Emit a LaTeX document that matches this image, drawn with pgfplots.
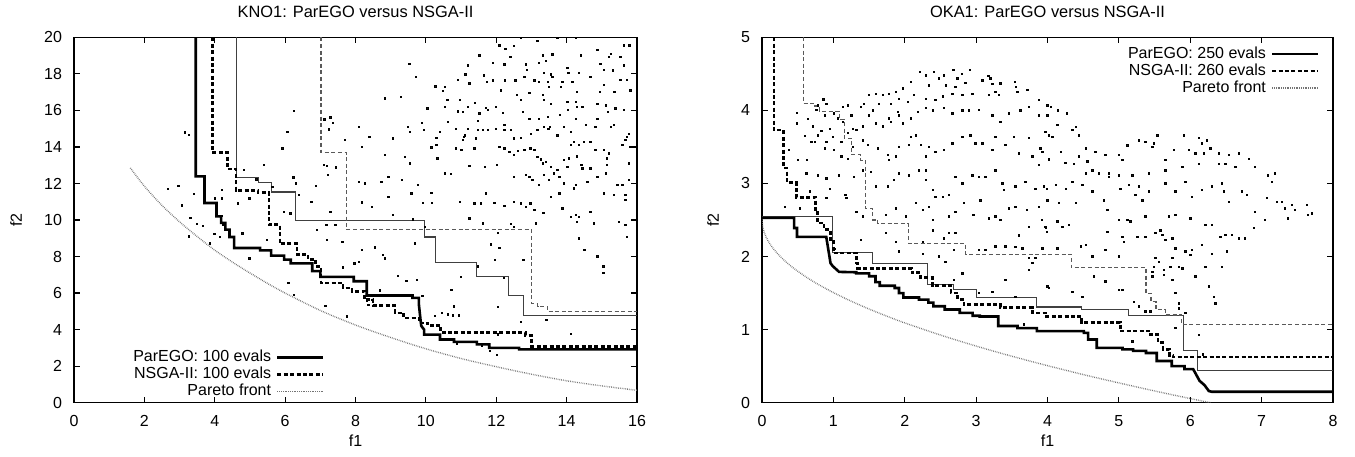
\documentclass[border=0pt]{standalone}
\usepackage{fontspec}
\setmainfont{Liberation Sans}
\usepackage{pgfplots}
\pgfplotsset{compat=1.18}
\definecolor{thinsolid}{gray}{0.25}
\definecolor{thindash}{gray}{0.35}
\definecolor{pfront}{gray}{0.45}
\pgfplotsset{
  gp/.style={
    scale only axis,
    height=182.7pt,
    axis line style={line width=0.75pt},
    tick style={black, line width=0.6pt},
    major tick length=3pt,
    tick align=inside,
    /pgf/number format/assume math mode=true,
    xticklabel style={yshift=-2.7pt},
    yticklabel style={xshift=-2.5pt},
    every axis title/.style={at={(axis description cs:0.5,1)}, anchor=center, yshift=12.65pt, font=\fontsize{8.2}{9.5}\selectfont},
    xlabel style={at={(axis description cs:0.5,0)}, anchor=center, yshift=-19pt},
    legend cell align=right,
    legend plot pos=right,
    legend image code/.code={\draw[##1] (0pt,0pt) -- (23pt,0pt);},
    legend style={draw=none, fill=none, inner sep=0pt, row sep=0pt,
      nodes={inner ysep=0.75pt, inner xsep=2.5pt, text height=5.6pt, text depth=1.4pt}},
  },
  pset/.style={only marks, mark=square*, mark size=0.34pt, mark options={draw=none, fill=black!90}, forget plot},
  thk/.style={black, line width=1.3pt},
  thkd/.style={black, line width=1.3pt, dash pattern=on 2pt off 1.2pt},
  thn/.style={thinsolid, line width=0.55pt, forget plot},
  thnd/.style={thindash, line width=0.55pt, dash pattern=on 2pt off 1.3pt, forget plot},
  pf/.style={pfront, line width=0.7pt, dash pattern=on 0.35pt off 0.55pt},
}
\begin{document}
\begin{tikzpicture}[font=\fontsize{8}{9.5}\selectfont]
\useasboundingbox (0,0) rectangle (677.5pt,228pt);
% ---------------- KNO1 ----------------
\begin{axis}[gp, at={(37pt,26.65pt)}, anchor=south west, width=281.5pt,
  xmin=0, xmax=16, ymin=0, ymax=20,
  xtick={0,2,...,16}, ytick={0,2,...,20},
  title={KNO1: ParEGO versus NSGA-II}, xlabel={f1}, ylabel={f2},
  ylabel style={at={([xshift=-29pt]axis description cs:0,0.5)}, anchor=center},
  legend style={at={(axis description cs:0.446,0.006)}, anchor=south east}]
\addplot[pset] coordinates {
(3.16,14.8)(3.26,14.66)(2.67,11.7)(2.97,11.88)(3.07,10.8)(3.41,11.42)(3.46,13.57)(3.31,10.1)(3.5,9.8)(3.26,9.11)
(10.73,6.19)(10.79,5.28)(11.0,6.89)(11.47,7.47)(11.97,7.83)(12.21,6.83)(12.77,7.83)(14.5,8.38)(14.87,8.01)(15.05,7.1)(15.05,7.47)
(10.45,4.92)(10.62,4.84)(10.77,4.78)(10.94,4.78)(12.04,5.25)(12.7,4.43)(13.43,4.54)(14.12,3.78)(12.04,3.74)(10.88,3.22)(11.82,2.84)(12.01,2.62)(11.6,3.1)
(6.25,15.97)(6.06,14.82)(5.92,13.91)(7.12,15.5)(7.29,15.61)(7.35,15.32)(7.24,14.95)(8.09,15.1)(8.39,14.55)(7.69,14.37)(8.18,14.0)
(7.1,13.0)(7.19,12.95)(7.44,12.88)(7.22,12.46)(5.4,13.0)(4.83,12.73)(5.18,12.22)(6.23,12.33)(6.31,12.0)(6.88,11.86)(8.09,12.09)(8.27,12.0)
(5.64,11.82)(4.65,10.91)(4.98,11.18)(4.01,11.18)(4.2,11.64)(6.39,11.36)(6.75,11.0)(7.29,10.45)(8.18,10.96)(8.46,10.73)(5.97,10.45)(6.15,10.36)
(4.79,9.27)(5.49,8.9)(6.91,9.45)(7.17,9.72)(7.43,9.72)(7.19,8.9)(7.63,8.81)(8.18,8.36)(8.56,8.5)(8.84,7.9)(8.77,8.09)(7.97,7.63)(8.09,7.72)(7.65,7.41)
(9.2,6.94)(9.45,6.68)(9.74,6.72)(9.9,5.85)(8.7,6.14)(7.14,5.3)(7.76,4.72)(8.32,5.59)(8.37,5.35)(8.46,5.63)(10.25,4.75)(6.09,6.57)(6.25,5.9)(4.98,7.9)
(4.2,10.22)(4.24,9.72)(4.32,9.45)(4.15,9.09)(3.99,9.23)(3.66,9.67)(3.86,8.72)(4.2,11.18)
(12.09,19.56)(12.26,19.38)(12.51,19.52)(12.7,19.98)(13.17,19.8)(13.74,19.98)(14.26,19.95)(14.87,19.32)(15.62,19.56)(15.78,19.56)
(11.52,19.01)(12.4,18.92)(13.32,19.01)(13.41,18.7)(13.22,18.61)(13.6,19.07)(14.4,19.01)(15.25,19.1)(15.2,18.92)(15.53,18.92)
(9.53,18.56)(11.2,18.47)(11.9,18.61)(12.23,18.52)(12.84,18.52)(12.87,18.23)(13.36,18.05)(13.6,17.83)(13.55,17.97)(14.02,18.34)(14.05,18.05)(14.35,18.05)
(14.96,18.56)(15.06,18.23)(15.32,18.19)(15.62,18.47)(15.72,17.68)(15.53,17.68)(9.71,17.83)(10.91,17.68)(11.12,17.96)(11.24,17.47)(11.65,17.92)(11.73,17.56)
(11.91,17.65)(12.25,17.65)(12.54,17.65)(12.8,17.83)(13.08,17.65)(13.22,17.56)(13.46,17.56)(13.5,17.28)(13.83,17.28)(13.88,17.56)(14.16,17.56)(14.3,17.01)
(14.68,17.83)(14.95,17.01)(15.06,17.38)(15.36,17.01)(15.81,17.1)(10.27,17.32)(10.49,17.05)(10.54,17.28)(10.61,16.56)(10.96,16.56)(11.2,16.19)(11.4,16.41)
(11.71,16.14)(12.14,17.1)(12.59,16.83)(12.7,16.56)(12.94,16.96)(13.32,16.83)(13.36,16.56)(13.55,16.34)(14.02,16.46)(14.04,16.04)(14.26,16.46)(14.3,16.19)
(14.45,16.19)(14.87,16.37)(15.11,16.28)(15.17,15.92)(15.39,16.1)(15.62,16.01)(8.84,16.65)(9.29,16.74)(10.04,16.1)(10.54,16.19)(10.91,15.95)(11.05,15.92)
(11.52,15.83)(11.76,16.04)(11.99,16.19)(12.18,15.86)(12.75,15.92)(12.94,15.55)(13.22,15.55)(13.46,15.64)(13.53,15.1)(13.81,15.74)(13.93,15.1)(14.26,15.55)
(14.54,15.19)(14.82,15.1)(14.87,15.55)(15.25,15.1)(15.34,15.19)(15.72,14.55)(9.88,15.32)(9.95,14.92)(9.48,15.1)(9.55,14.82)(10.39,14.82)(10.63,15.37)
(10.86,14.97)(11.08,14.55)(11.2,14.97)(11.48,15.43)(11.48,14.92)(11.62,14.92)(11.76,14.92)(11.99,14.97)(12.23,15.19)(12.23,14.92)(12.42,14.92)(12.51,14.46)
(12.7,14.51)(12.99,14.73)(13.17,14.92)(13.36,15.1)(13.48,14.97)(13.74,14.64)(14.12,14.82)(14.21,14.28)(14.35,14.1)(14.49,14.28)(14.68,14.28)(9.07,14.46)
(10.3,14.51)(11.05,14.37)(11.1,14.64)(11.43,14.46)(10.3,14.1)(10.16,13.97)(10.86,13.91)(11.01,13.82)(11.38,13.91)(12.09,14.0)(12.23,13.91)(12.37,13.73)
(12.51,13.55)(12.61,13.79)(12.8,13.82)(12.97,13.91)(13.08,13.82)(13.17,13.46)(13.27,13.31)(13.41,13.19)(13.32,13.09)(13.55,12.91)(13.64,12.55)(13.74,12.73)
(13.79,12.37)(13.93,13.28)(14.07,13.37)(14.02,12.91)(14.13,14.1)(14.3,13.49)(14.42,13.0)(14.68,12.82)(14.82,13.82)(15.06,13.82)(15.15,13.37)(15.2,13.64)
(15.58,14.1)(15.67,14.37)(15.77,14.73)(15.81,14.0)(15.77,13.09)(8.84,13.55)(9.4,13.46)(9.55,13.09)(10.33,13.37)(10.54,12.55)(10.72,12.51)(11.24,12.95)
(11.68,12.91)(12.02,13.0)(12.51,12.37)(12.84,12.46)(12.94,12.37)(13.03,12.18)(13.22,11.91)(13.36,12.46)(13.5,12.18)(13.93,12.0)(14.26,11.91)(14.21,11.73)
(14.45,12.82)(14.59,12.09)(14.87,12.37)(15.11,12.55)(15.15,13.0)(15.44,11.91)(15.58,11.91)(15.77,12.18)(8.74,12.09)(8.93,12.37)(9.31,12.18)(9.59,11.46)
(9.78,11.91)(10.16,11.49)(8.93,11.27)(9.92,10.94)(10.18,10.94)(10.96,11.0)(11.38,10.91)(11.57,10.91)(11.95,10.94)(11.71,11.46)(12.23,10.76)(12.51,11.0)
(12.7,10.91)(12.84,10.73)(12.97,10.91)(13.08,10.54)(13.34,10.4)(13.55,11.27)(13.79,11.46)(13.88,10.63)(14.12,10.18)(14.26,10.27)(14.35,10.18)(14.3,9.91)
(14.68,10.45)(15.06,11.46)(15.34,11.36)(15.67,11.36)(15.67,11.09)(9.06,10.27)(9.64,10.03)(9.97,9.63)(11.24,10.09)(11.62,9.82)(12.42,9.78)(12.51,9.63)
(13.13,9.82)(14.78,9.82)(15.48,9.91)(15.67,9.72)(14.35,9.0)(15.72,9.09)(12.04,9.31)(9.69,8.72)(11.85,8.67)(12.09,8.49)
};
\addplot[thn] coordinates {(4.61,20)(4.61,12.35)(5.25,12.35)(5.25,12.06)(5.62,12.06)(5.62,11.53)(6.3,11.53)(6.3,9.96)(9.95,9.96)(9.95,9.07)(10.27,9.07)(10.27,7.65)(11.45,7.65)(11.45,6.89)(12.34,6.89)(12.34,5.88)(12.77,5.88)(12.77,4.78)(16,4.78)};
\addplot[thnd] coordinates {(7.02,20)(7.02,13.7)(7.74,13.7)(7.74,9.47)(13.0,9.47)(13.0,5.43)(13.18,5.43)(13.18,5.28)(13.45,5.28)(13.45,5.0)(16,5.0)};
\addplot[thk] coordinates {(3.46,20)(3.46,12.39)(3.71,12.39)(3.71,10.93)(4.05,10.93)(4.05,10.2)(4.18,10.2)(4.18,9.84)(4.3,9.84)(4.3,9.47)(4.42,9.47)(4.42,9.07)(4.55,9.07)(4.55,8.47)(5.29,8.47)(5.29,8.34)(5.6,8.34)(5.6,8.05)(5.97,8.05)(5.97,7.83)(6.16,7.83)(6.16,7.63)(6.77,7.63)(6.77,7.2)(7.0,7.2)(7.0,6.89)(7.95,6.89)(7.95,6.65)(8.32,6.65)(8.32,5.87)(9.62,5.87)(9.62,5.74)(9.8,5.74)(9.8,5.4)(9.85,4.5)(9.87,4.2)(9.95,4.0)(9.95,3.73)(10.4,3.73)(10.4,3.46)(10.8,3.46)(10.8,3.33)(11.45,3.33)(11.45,3.19)(11.8,3.19)(11.8,3.0)(12.65,3.0)(12.65,2.92)(16,2.92)};
\addlegendentry{ParEGO: 100 evals}
\addplot[thkd] coordinates {(3.93,20)(3.93,13.7)(4.36,13.7)(4.36,12.8)(4.6,12.8)(4.6,11.62)(5.23,11.62)(5.23,11.5)(5.54,11.5)(5.54,9.74)(5.85,9.74)(5.85,8.7)(6.34,8.7)(6.34,8.1)(6.65,8.1)(6.65,7.83)(6.87,7.83)(6.87,7.47)(7.02,7.47)(7.02,6.56)(7.64,6.56)(7.64,6.28)(7.9,6.28)(7.9,6.1)(8.26,6.1)(8.26,5.65)(8.5,5.65)(8.5,5.32)(9.12,5.32)(9.12,4.92)(9.37,4.92)(9.37,4.64)(9.8,4.64)(9.8,4.37)(10.05,4.37)(10.05,4.23)(10.42,4.23)(10.42,3.83)(12.83,3.83)(12.83,3.68)(13.0,3.68)(13.0,3.08)(16,3.08)};
\addlegendentry{NSGA-II: 100 evals}
\addplot[pf, smooth] coordinates {(1.6,12.85)(2,11.85)(2.5,10.8)(3,9.9)(3.5,9.1)(4,8.35)(4.5,7.7)(5,7.1)(5.5,6.53)(6,6.0)(7,5.05)(8,4.25)(9,3.57)(10,2.95)(11,2.42)(12,1.97)(13,1.56)(14,1.2)(15,0.92)(16,0.68)};
\addlegendentry{Pareto front}
\end{axis}
% ---------------- OKA1 ----------------
\begin{axis}[gp, at={(381pt,26.65pt)}, anchor=south west, width=285.5pt,
  xmin=0, xmax=8, ymin=0, ymax=5,
  xtick={0,...,8}, ytick={0,...,5},
  title={OKA1: ParEGO versus NSGA-II}, xlabel={f1}, ylabel={f2},
  ylabel style={at={([xshift=-24.5pt]axis description cs:0,0.5)}, anchor=center},
  legend style={at={(axis description cs:0.977,0.979)}, anchor=north east}]
\addplot[pset] coordinates {
(2.21,4.53)(2.3,4.48)(2.41,4.53)(2.48,4.44)(2.55,4.48)(2.68,4.55)(2.74,4.44)(2.8,4.5)(2.91,4.55)(2.85,4.38)(2.71,4.32)(2.58,4.34)(2.34,4.34)(2.09,4.39)
(1.97,4.3)(1.88,4.25)(1.78,4.23)(1.69,4.21)(1.6,4.23)(1.5,4.21)(1.43,4.09)(1.39,4.05)(3.09,4.41)(3.17,4.47)(3.2,4.44)(3.23,4.36)(3.27,4.25)(3.34,4.37)
(3.18,4.21)(3.32,4.21)(3.54,4.39)(3.56,4.32)(3.58,4.25)(3.72,4.28)(2.95,4.23)(2.81,4.21)(2.67,4.23)(2.53,4.19)(2.43,4.14)(2.3,4.16)(2.13,4.21)(2.04,4.12)
(1.92,4.16)(1.81,4.09)(1.64,4.09)(1.55,4.0)(1.5,3.93)(1.25,3.93)(1.2,4.07)(1.13,4.05)(0.86,4.15)(0.9,4.09)(0.78,4.07)(0.76,4.01)(0.49,3.97)(0.49,3.82)
(0.64,3.88)(0.88,3.93)(1.01,3.96)(1.06,3.89)(1.13,3.84)(0.95,3.75)(0.83,3.72)(0.71,3.78)(0.6,3.65)(0.69,3.57)(0.78,3.66)(0.9,3.57)(0.99,3.64)(1.11,3.57)
(1.2,3.69)(1.27,3.75)(1.32,3.73)(1.41,3.78)(1.6,3.82)(1.69,3.78)(1.78,3.89)(1.81,3.84)(1.92,3.93)(1.9,3.98)(1.97,3.82)(2.09,3.89)(2.18,3.98)(2.3,4.03)
(2.39,4.0)(2.55,4.03)(2.67,3.96)(2.81,4.0)(2.9,4.0)(3.04,4.01)(3.23,3.93)(3.34,3.84)(3.46,3.96)(3.62,4.0)(3.74,4.05)(3.88,4.14)(4.0,4.07)(3.88,3.93)
(4.0,3.93)(0.38,3.46)(0.5,3.32)(0.63,3.32)(0.74,3.57)(0.88,3.48)(1.01,3.46)(1.11,3.37)(1.2,3.34)(1.27,3.5)(1.41,3.59)(1.48,3.53)(1.62,3.48)(1.76,3.39)
(1.78,3.32)(1.88,3.37)(1.92,3.5)(2.06,3.53)(2.09,3.64)(2.16,3.66)(2.23,3.53)(2.3,3.37)(2.34,3.5)(2.43,3.43)(2.55,3.46)(2.67,3.55)(2.81,3.64)(2.92,3.66)
(2.99,3.55)(3.09,3.55)(3.23,3.46)(3.27,3.64)(3.41,3.53)(3.53,3.64)(3.6,3.41)(3.74,3.62)(3.79,3.37)(3.9,3.48)(4.02,3.34)(4.02,3.66)(0.62,3.14)(0.78,3.11)
(0.9,3.07)(0.95,2.93)(1.08,3.11)(1.17,2.84)(1.29,3.09)(1.41,3.18)(1.53,3.16)(1.6,2.96)(1.76,2.96)(1.85,3.05)(1.92,3.14)(2.06,3.11)(2.2,3.18)(2.3,3.18)
(2.3,3.05)(2.39,2.91)(2.43,2.82)(2.53,2.82)(2.62,2.84)(2.71,3.09)(2.81,3.0)(2.95,3.11)(3.04,3.09)(3.13,3.09)(3.27,3.18)(3.37,3.0)(3.39,2.91)(3.55,2.96)
(3.69,3.02)(3.83,2.93)(3.88,3.25)(3.99,2.93)(0.67,2.89)(0.32,2.68)(0.53,2.66)(0.9,2.8)(1.18,2.8)(1.32,2.61)(1.41,2.55)(1.74,2.57)(1.88,2.66)(2.02,2.55)
(2.16,2.73)(2.25,2.64)(2.34,2.68)(2.39,2.5)(2.62,2.55)(2.71,2.61)(2.83,2.73)(2.96,2.57)(3.06,2.77)(3.18,2.52)(3.27,2.55)(3.34,2.5)(3.46,2.66)(3.55,2.68)
(3.6,2.29)(3.71,2.64)(3.74,2.41)(3.88,2.68)(3.92,2.5)(3.97,2.41)(3.99,2.34)(1.39,2.23)(1.74,2.32)(1.88,2.2)(1.92,2.07)(2.25,2.2)(2.39,2.36)(2.55,2.25)
(2.62,2.32)(2.71,2.32)(2.48,2.0)(2.57,1.93)(2.25,2.04)(2.69,2.09)(3.04,2.09)(3.13,2.09)(3.27,2.14)(3.41,2.14)(3.55,2.13)(3.65,2.11)(3.74,1.98)(3.79,1.91)
(3.83,1.98)(3.41,1.68)(2.81,1.77)(2.69,1.68)(3.23,1.52)(3.55,1.45)(3.74,1.82)(4.02,1.57)(3.04,1.5)
(3.97,3.71)(4.14,3.8)(4.35,3.73)(4.4,3.77)(4.44,3.66)(4.07,3.64)(3.93,3.43)(4.02,3.32)(4.19,3.43)(4.25,3.28)(4.37,3.27)(4.44,3.37)(4.54,3.48)(4.56,3.3)
(4.63,3.18)(4.67,3.43)(4.72,3.14)(4.81,3.39)(4.86,3.14)(5.0,3.39)(5.05,3.32)(5.12,3.52)(5.28,3.59)(5.37,3.57)(5.47,3.5)(5.54,3.66)(5.49,3.55)(5.65,3.32)
(5.77,3.46)(5.91,3.66)(5.98,3.46)(6.07,3.41)(6.12,3.62)(6.16,3.55)(6.23,3.59)(6.28,3.48)(6.19,3.41)(6.4,3.41)(6.54,3.39)(6.68,3.41)(6.82,3.34)(6.91,3.23)
(6.63,3.23)(6.49,3.27)(6.4,3.27)(6.12,3.27)(5.89,3.23)(5.65,3.18)(5.42,3.14)(5.19,3.11)(5.0,3.11)(4.86,3.09)(4.54,3.14)(4.35,3.02)(4.12,2.98)(3.95,2.96)
(4.26,2.93)(4.49,2.98)(4.63,2.89)(4.79,2.77)(5.02,2.93)(5.14,2.98)(5.28,2.96)(5.23,2.84)(5.33,2.77)(5.42,2.89)(5.65,3.0)(5.79,2.89)(5.93,3.02)(6.02,2.82)
(6.16,2.91)(6.3,2.96)(6.44,3.0)(6.47,2.89)(6.54,2.75)(6.72,2.89)(6.79,2.84)(6.91,2.61)(7.09,3.11)(7.19,3.14)(7.14,3.02)(7.21,2.75)(7.28,2.75)(7.33,2.66)
(7.42,2.71)(7.47,2.64)(7.37,2.52)(7.63,2.71)(7.65,2.57)(7.7,2.59)(7.07,2.8)(7.05,2.5)(4.0,2.77)(4.16,2.73)(4.4,2.73)(4.84,2.64)(5.0,2.5)(5.12,2.5)
(5.16,2.48)(5.37,2.55)(5.58,2.36)(5.7,2.55)(5.79,2.57)(6.0,2.52)(6.21,2.43)(6.3,2.43)(6.42,2.27)(6.49,2.3)(6.58,2.3)(6.68,2.25)(6.77,2.25)(6.89,2.39)
(3.98,2.39)(4.14,2.48)(4.21,2.41)(4.3,2.43)(4.47,2.14)(4.54,2.16)(4.84,2.34)(5.05,2.27)(5.07,2.2)(5.26,2.27)(5.37,2.27)(5.51,2.32)(5.61,2.3)(5.65,2.23)
(5.75,2.25)(5.79,2.11)(5.93,2.07)(6.0,2.02)(6.02,2.09)(6.16,2.16)(6.3,2.04)(6.51,2.07)(3.93,2.11)(4.14,2.11)(4.63,2.0)(4.81,2.09)(5.0,2.0)(5.51,1.98)
(5.56,1.93)(5.49,1.86)(5.63,1.82)(5.72,1.86)(5.75,1.98)(5.84,1.86)(5.89,1.84)(6.07,1.73)(6.21,1.86)(6.44,1.86)(4.65,1.73)(4.81,1.66)(5.0,1.54)(5.05,1.54)
(5.21,1.38)(5.28,1.32)(5.37,1.25)(5.44,1.25)(5.47,1.79)(5.47,1.73)(5.63,1.75)(5.75,1.68)(5.79,1.5)(5.84,1.36)(5.93,1.23)(5.84,1.29)(6.26,1.59)(6.33,1.45)
(6.35,1.36)(4.35,1.52)(4.49,1.45)(4.0,1.59)(5.79,1.02)(6.12,0.93)(5.19,0.84)
(4.27,3.96)(4.15,4.0)(4.05,4.05)(3.67,1.07)(6.18,0.66)
};
\addplot[thn] coordinates {(0,2.55)(0.99,2.55)(0.99,2.05)(1.55,2.05)(1.55,1.91)(2.32,1.91)(2.32,1.62)(2.68,1.62)(2.68,1.55)(3.0,1.55)(3.0,1.44)(3.85,1.44)(3.85,1.31)(4.48,1.31)(4.48,1.28)(5.14,1.28)(5.14,1.19)(5.91,1.19)(5.91,0.72)(6.1,0.72)(6.1,0.44)(8,0.44)};
\addplot[thnd] coordinates {(0.58,5)(0.58,4.10)(0.72,4.10)(0.72,4.06)(0.80,4.06)(0.80,3.99)(1.08,3.99)(1.08,3.88)(1.15,3.88)(1.15,3.62)(1.25,3.62)(1.25,3.40)(1.38,3.40)(1.38,3.32)(1.45,3.32)(1.45,2.66)(1.55,2.66)(1.55,2.50)(1.62,2.50)(1.62,2.45)(2.05,2.45)(2.05,2.18)(2.85,2.18)(2.85,2.03)(4.33,2.03)(4.33,1.85)(5.38,1.85)(5.38,1.50)(5.45,1.50)(5.45,1.38)(5.52,1.38)(5.52,1.27)(5.65,1.27)(5.65,1.20)(5.88,1.20)(5.88,1.07)(8,1.07)};
\addplot[thk] coordinates {(0,2.53)(0.45,2.53)(0.45,2.39)(0.49,2.39)(0.49,2.27)(0.9,2.27)(0.93,2.09)(0.96,1.91)(0.99,1.87)(1.08,1.79)(1.32,1.785)(1.32,1.77)(1.5,1.77)(1.5,1.73)(1.59,1.73)(1.59,1.65)(1.65,1.65)(1.65,1.6)(1.86,1.6)(1.86,1.57)(1.92,1.57)(1.92,1.5)(1.98,1.5)(1.98,1.44)(2.2,1.44)(2.2,1.41)(2.33,1.41)(2.33,1.37)(2.4,1.37)(2.4,1.32)(2.56,1.32)(2.56,1.275)(2.77,1.275)(2.77,1.23)(2.95,1.23)(2.95,1.19)(3.05,1.19)(3.05,1.18)(3.31,1.18)(3.31,1.05)(3.58,1.05)(3.58,1.02)(3.85,1.02)(3.85,0.98)(4.51,0.98)(4.51,0.956)(4.57,0.956)(4.57,0.865)(4.69,0.865)(4.69,0.75)(5.05,0.75)(5.05,0.73)(5.2,0.73)(5.2,0.71)(5.38,0.71)(5.38,0.68)(5.53,0.68)(5.53,0.57)(5.74,0.57)(5.74,0.50)(5.92,0.50)(5.92,0.46)(6.04,0.46)(6.08,0.39)(6.13,0.30)(6.2,0.24)(6.26,0.16)(6.3,0.15)(8,0.15)};
\addlegendentry{ParEGO: 250 evals}
\addplot[thkd] coordinates {(0.17,5)(0.17,3.73)(0.3,3.73)(0.3,3.21)(0.35,3.21)(0.35,3.01)(0.48,3.01)(0.48,2.81)(0.75,2.81)(0.75,2.6)(0.78,2.6)(0.78,2.46)(0.87,2.46)(0.87,2.37)(0.96,2.37)(0.96,2.23)(1.0,2.23)(1.0,2.1)(1.02,2.1)(1.02,2.05)(1.32,2.05)(1.32,1.91)(1.34,1.91)(1.34,1.84)(2.1,1.84)(2.1,1.78)(2.22,1.78)(2.22,1.71)(2.39,1.71)(2.39,1.6)(2.65,1.6)(2.65,1.5)(2.74,1.5)(2.74,1.41)(2.83,1.41)(2.83,1.34)(3.34,1.34)(3.34,1.3)(3.79,1.3)(3.79,1.23)(3.97,1.23)(3.97,1.18)(4.48,1.18)(4.48,1.1)(5.02,1.1)(5.02,0.98)(5.44,0.98)(5.44,0.93)(5.55,0.93)(5.55,0.82)(5.62,0.82)(5.62,0.73)(5.71,0.73)(5.71,0.65)(5.76,0.65)(5.76,0.625)(8,0.625)};
\addlegendentry{NSGA-II: 260 evals}
\addplot[pf, smooth] coordinates {(0,2.507)(0.01,2.407)(0.03,2.334)(0.06,2.262)(0.1,2.190)(0.15,2.119)(0.2,2.059)(0.3,1.959)(0.4,1.874)(0.5,1.800)(0.65,1.700)(0.8,1.612)(1.0,1.507)(1.25,1.389)(1.5,1.282)(1.75,1.184)(2.0,1.092)(2.5,0.926)(3.0,0.775)(3.5,0.636)(4.0,0.507)(4.5,0.385)(5.0,0.271)(5.5,0.161)(6.0,0.057)(6.283,0.0)};
\addlegendentry{Pareto front}
\end{axis}
\end{tikzpicture}
\end{document}
